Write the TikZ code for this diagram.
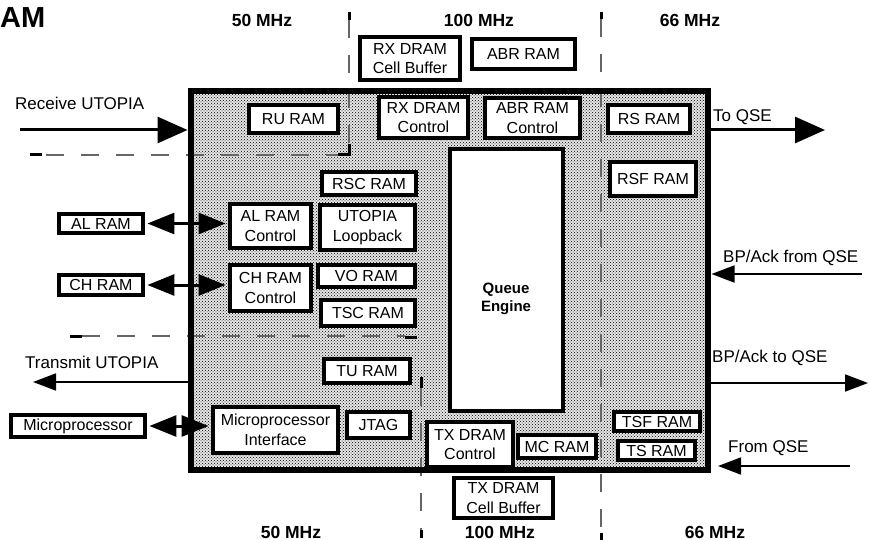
\documentclass[tikz,border=0pt]{standalone}
\usepackage{fontspec}
\setmainfont{Liberation Sans}
\usetikzlibrary{arrows.meta,patterns}
\newcommand\bxfont{\fontsize{16}{19.5}\selectfont}
\newcommand\lbfont{\fontsize{17}{20}\selectfont}
\newcommand\mhzfont{\fontsize{17.5}{20}\selectfont\bfseries}
\newcommand\qefont{\fontsize{15}{18}\selectfont\bfseries}
\begin{document}
\begin{tikzpicture}[x=1pt,y=-1pt,
  ram/.style={draw, line width=4.5pt, fill=white, inner sep=0pt, align=center, font=\bxfont},
  divider/.style={draw=black!60, line width=1.3pt, dash pattern=on 18pt off 17pt},
  capbar/.style={draw=black, line width=3pt},
  bigarrow/.style={line width=3pt, -{Triangle[length=30pt,width=26pt]}},
  smallarrow/.style={line width=1.8pt, -{Triangle[length=23pt,width=17pt]}},
  dblarrow/.style={line width=3pt, {Triangle[length=27pt,width=21pt]}-{Triangle[length=27pt,width=21pt]}},
  lbl/.style={font=\lbfont, inner sep=0pt, anchor=base west},
  mhz/.style={font=\mhzfont, inner sep=0pt, anchor=base}]
\useasboundingbox (0,0) rectangle (870,540);
\fill[white] (0,0) rectangle (870,540);

% chip background
\node[minimum width=517pt, minimum height=379pt, inner sep=0pt, fill=black!10,
      postaction={pattern=crosshatch dots, pattern color=black}] (chip) at (449.5,280.5) {};

% clock-domain dividers
\draw[divider] (349,20) -- (349,155) -- (42,155);
\draw[capbar] (349,12) -- (349,20);
\draw[capbar] (349,144) -- (349,155) -- (338,155);
\draw[capbar] (30,155) -- (42,155);
\draw[divider] (82,336) -- (405,336);
\draw[capbar] (70,336) -- (82,336);
\draw[capbar] (405,337) -- (417,337);
\draw[divider] (421,388) -- (421,530);
\draw[capbar] (421,377) -- (421,388);
\draw[capbar] (421,530) -- (421,538);
\draw[divider] (601,19) -- (601,533);
\draw[capbar] (601,12) -- (601,19);
\draw[capbar] (601,533) -- (601,540);

% outside boxes
\node[ram, minimum width=100pt, minimum height=43pt] (rxcb) at (410,58.5) {RX DRAM\\Cell Buffer};
\node[ram, minimum width=103pt, minimum height=30pt] (abr) at (523.5,54) {ABR RAM};
\node[ram, minimum width=99pt, minimum height=40pt] (txcb) at (503.5,498) {TX DRAM\\Cell Buffer};
\node[ram, minimum width=84pt, minimum height=19pt] (alram) at (101,223.5) {AL RAM};
\node[ram, minimum width=84pt, minimum height=20pt] (chram) at (101,285) {CH RAM};
\node[ram, minimum width=134pt, minimum height=22pt] (micro) at (78,426) {Microprocessor};

% inner boxes
\node[ram, minimum width=89pt, minimum height=28pt] (ru) at (293.5,119) {RU RAM};
\node[ram, minimum width=89pt, minimum height=41pt] (rxc) at (423.5,117.5) {RX DRAM\\Control};
\node[ram, minimum width=95pt, minimum height=40pt] (abrc) at (532.5,118) {ABR RAM\\Control};
\node[ram, minimum width=82pt, minimum height=28pt] (rs) at (649,119) {RS RAM};
\node[ram, minimum width=86pt, minimum height=34pt] (rsf) at (653,179) {RSF RAM};
\node[ram, minimum width=113pt, minimum height=262pt] (qe) at (506.5,280) {};
\node[font=\qefont, align=center, inner sep=0pt] (qel) at (506,299) {Queue\\Engine};
\node[ram, minimum width=94pt, minimum height=23pt] (rsc) at (369,183.5) {RSC RAM};
\node[ram, minimum width=81pt, minimum height=44pt] (alc) at (270.5,226) {AL RAM\\Control};
\node[ram, minimum width=95pt, minimum height=45pt] (utl) at (367.5,227.5) {UTOPIA\\Loopback};
\node[ram, minimum width=81pt, minimum height=46pt] (chc) at (270.5,288) {CH RAM\\Control};
\node[ram, minimum width=97pt, minimum height=22pt] (vo) at (366.5,276) {VO RAM};
\node[ram, minimum width=94pt, minimum height=26pt] (tsc) at (368,313) {TSC RAM};
\node[ram, minimum width=86pt, minimum height=24pt] (tu) at (367,371) {TU RAM};
\node[ram, minimum width=125pt, minimum height=46pt] (mpi) at (275.5,430) {Microprocessor\\Interface};
\node[ram, minimum width=63pt, minimum height=26pt] (jtag) at (378.5,425) {JTAG};
\node[ram, minimum width=86pt, minimum height=45pt] (txc) at (470,444.5) {TX DRAM\\Control};
\node[ram, minimum width=78pt, minimum height=23pt] (mc) at (557,446.5) {MC RAM};
\node[ram, minimum width=86pt, minimum height=19pt] (tsf) at (657,421.5) {TSF RAM};
\node[ram, minimum width=77pt, minimum height=19pt] (ts) at (656.5,450.5) {TS RAM};

% chip border
\draw[line width=6.5pt] (chip.north west) rectangle (chip.south east);

% external connections
\coordinate (rxin) at (20,130);
\draw[bigarrow, shorten >=3.3pt] (rxin) -- (rxin -| chip.west);
\coordinate (toqse) at (825,130);
\draw[bigarrow] (toqse -| chip.east) -- (toqse);
\coordinate (bpin) at (862,274);
\draw[smallarrow, shorten >=3.3pt] (bpin) -- (bpin -| chip.east);
\coordinate (bpout) at (868,383);
\draw[smallarrow] (bpout -| chip.east) -- (bpout);
\coordinate (fqs) at (850,466);
\coordinate (fqe) at (718,466);
\draw[smallarrow] (fqs) -- (fqe);
\coordinate (txu) at (33,382);
\draw[smallarrow, shorten <=3.3pt] (txu -| chip.west) -- (txu);

\draw[dblarrow, shorten <=2.2pt, shorten >=2.2pt] (alram.east) -- (alram.east -| alc.west);
\draw[dblarrow, shorten <=2.2pt, shorten >=2.2pt] (chram.east) -- (chram.east -| chc.west);
\draw[dblarrow, shorten <=2.2pt, shorten >=2.2pt] (micro.east) -- (micro.east -| mpi.west);

% labels
\node[lbl] (lrx) at (15,110) {Receive UTOPIA};
\node[lbl] (ltq) at (713,122) {To QSE};
\node[lbl] (lbpf) at (723,262) {BP/Ack from QSE};
\node[lbl] (lbpt) at (712,362) {BP/Ack to QSE};
\node[lbl] (ltx) at (25,368) {Transmit UTOPIA};
\node[lbl] (lfq) at (728,452) {From QSE};

\node[font=\fontsize{29}{32}\selectfont\bfseries, inner sep=0pt, anchor=base west] (title) at (0,28) {AM};

\node[mhz] (f1) at (262,27) {50 MHz};
\node[mhz] (f2) at (479,27) {100 MHz};
\node[mhz] (f3) at (690,27) {66 MHz};
\node[mhz] (f4) at (291,538) {50 MHz};
\node[mhz] (f5) at (500,538) {100 MHz};
\node[mhz] (f6) at (715,538) {66 MHz};
\end{tikzpicture}
\end{document}
